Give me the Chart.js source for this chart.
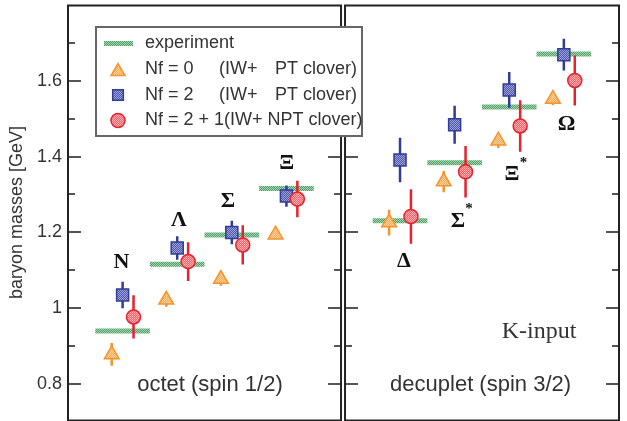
<!DOCTYPE html>
<html><head><meta charset="utf-8">
<script src="https://cdn.jsdelivr.net/npm/chart.js@4/dist/chart.umd.min.js"></script>
<style>html,body{margin:0;padding:0;background:#fff;}#wrap{width:627px;height:421px;position:relative;}</style>
</head><body><div id="wrap"><canvas id="c" width="627" height="421"></canvas></div>
<script>
// ---- data ----
const octetNames = ['N', 'Λ', 'Σ', 'Ξ'];
const decupletNames = ['Δ', 'Σ*', 'Ξ*', 'Ω'];
const expOctet = [0.940, 1.116, 1.193, 1.316];
const expDecuplet = [1.231, 1.384, 1.531, 1.671];
const nf0Octet = [0.878, 1.022, 1.077, 1.194];
const nf0OctetErr = [0.030, 0.018, 0.018, 0.012];
const nf0Decuplet = [1.226, 1.334, 1.442, 1.552];
const nf0DecupletErr = [0.034, 0.028, 0.019, 0.016];
const nf2Octet = [1.035, 1.159, 1.200, 1.296];
const nf2OctetErr = [0.035, 0.031, 0.031, 0.028];
const nf2Decuplet = [1.391, 1.484, 1.576, 1.669];
const nf2DecupletErr = [0.059, 0.050, 0.047, 0.042];
const nf21Octet = [0.977, 1.123, 1.167, 1.288];
const nf21OctetErr = [0.057, 0.051, 0.052, 0.048];
const nf21Decuplet = [1.242, 1.360, 1.481, 1.601];
const nf21DecupletErr = [0.072, 0.068, 0.068, 0.066];
const yTickValues = [0.8, 1.0, 1.2, 1.4, 1.6];
const yTickLabels = ['0.8', '1', '1.2', '1.4', '1.6'];
const yMinorTicks = [0.9, 1.1, 1.3, 1.5, 1.7];
const panelLabels = ['octet (spin 1/2)', 'decuplet (spin 3/2)'];
const inputLabel = 'K-input';
const legendRows = [
  ['experiment'],
  ['Nf = 0', '(IW+', 'PT clover)'],
  ['Nf = 2', '(IW+', 'PT clover)'],
  ['Nf = 2 + 1(IW+ NPT clover)']
];

// ---- layout (x in panel units) ----
const X_MAX = 10.09;
const PANELS = [[0, 5], [5.073, 10.09]];
const octetX = octetNames.map((_, i) => i + 1);
const decupletX = decupletNames.map((_, i) => 6.08 + i);
const allX = octetX.concat(decupletX);
const OFF = 0.2;

function makePattern(c1, c2) {
  const p = document.createElement('canvas');
  p.width = 2; p.height = 2;
  const g = p.getContext('2d');
  g.fillStyle = c1; g.fillRect(0, 0, 2, 2);
  g.fillStyle = c2; g.fillRect(0, 0, 1, 1); g.fillRect(1, 1, 1, 1);
  return g.createPattern(p, 'repeat');
}
const ctx = document.getElementById('c').getContext('2d');
const triFill = makePattern('#f7a95a', '#fcd7a8');
const sqFill = makePattern('#4f57a8', '#9ea2d6');
const ciFill = makePattern('#f2676d', '#fbb3b5');
const expStroke = makePattern('#4aa063', '#a8d6b2');

const C_TRI = '#f5942a', C_SQ = '#2f3c98', C_CI = '#e5222d';

function pts(xs, ys, dx) { return ys.map((y, i) => ({x: xs[i] + dx, y})); }
function errs(xs, ys, es, dx) {
  const out = [];
  ys.forEach((y, i) => { out.push({x: xs[i] + dx, y: y - es[i]}, {x: xs[i] + dx, y: y + es[i]}, {x: xs[i] + dx, y: null}); });
  return out;
}
function expSegs(xs, ys) {
  const out = [];
  ys.forEach((y, i) => { out.push({x: xs[i] - 0.5, y}, {x: xs[i] + 0.5, y}, {x: xs[i], y: null}); });
  return out;
}
const nf0 = nf0Octet.concat(nf0Decuplet), nf0E = nf0OctetErr.concat(nf0DecupletErr);
const nf2 = nf2Octet.concat(nf2Decuplet), nf2E = nf2OctetErr.concat(nf2DecupletErr);
const nf21 = nf21Octet.concat(nf21Decuplet), nf21E = nf21OctetErr.concat(nf21DecupletErr);
const exps = expOctet.concat(expDecuplet);

const datasets = [
  {label: 'Nf = 2 + 1', data: pts(allX, nf21, OFF), pointStyle: 'circle', pointRadius: 7, pointBackgroundColor: ciFill, pointBorderColor: C_CI, pointBorderWidth: 1.5, showLine: false},
  {label: 'e21', data: errs(allX, nf21, nf21E, OFF), showLine: true, borderColor: C_CI, borderWidth: 2.5, pointRadius: 0},
  {label: 'Nf = 2', data: pts(allX, nf2, 0), pointStyle: 'rect', pointRadius: 8.5, pointBackgroundColor: sqFill, pointBorderColor: C_SQ, pointBorderWidth: 1.5, showLine: false},
  {label: 'e2', data: errs(allX, nf2, nf2E, 0), showLine: true, borderColor: C_SQ, borderWidth: 2.5, pointRadius: 0},
  {label: 'Nf = 0', data: pts(allX, nf0, -OFF), pointStyle: 'triangle', pointRadius: 8.5, pointBackgroundColor: triFill, pointBorderColor: C_TRI, pointBorderWidth: 1.5, showLine: false},
  {label: 'e0', data: errs(allX, nf0, nf0E, -OFF), showLine: true, borderColor: C_TRI, borderWidth: 2.5, pointRadius: 0},
  {label: 'experiment', data: expSegs(allX, exps), showLine: true, borderColor: expStroke, borderWidth: 5, pointRadius: 0}
];

const annotations = [
  ['N', 0.98, 1.122], ['Λ', 2.03, 1.231], ['Σ', 2.93, 1.283], ['Ξ', 4.005, 1.383],
  ['Δ', 6.15, 1.123], ['Σ*', 7.14, 1.229], ['Ξ*', 8.13, 1.352], ['Ω', 9.13, 1.486]
];

const framePlugin = {
  id: 'frame',
  beforeDatasetsDraw(chart) {
    const {ctx, chartArea: a, scales: {x, y}} = chart;
    ctx.save();
    ctx.lineWidth = 2;
    PANELS.forEach(([p0, p1]) => {
      const l = x.getPixelForValue(p0), r = x.getPixelForValue(p1);
      const ticks = yTickValues.map(v => [v, 13]).concat(yMinorTicks.map(v => [v, 7]));
      ctx.strokeStyle = '#555';
      ticks.forEach(([v, len]) => {
        const py = Math.round(y.getPixelForValue(v));
        ctx.beginPath(); ctx.moveTo(l, py); ctx.lineTo(l + len, py); ctx.stroke();
        ctx.beginPath(); ctx.moveTo(r, py); ctx.lineTo(r - len, py); ctx.stroke();
      });
      ctx.strokeStyle = '#222';
      ctx.strokeRect(l, a.top + 0.5, r - l, a.bottom - a.top);
    });
    ctx.restore();
  },
  afterDatasetsDraw(chart) {
    const {ctx, scales: {x, y}} = chart;
    ctx.save();
    ctx.fillStyle = '#111';
    ctx.textAlign = 'center'; ctx.textBaseline = 'middle';
    annotations.forEach(([name, ax, ay]) => {
      const px = x.getPixelForValue(ax), py = y.getPixelForValue(ay);
      const base = name.replace('*', '');
      ctx.font = 'bold 22px "Liberation Serif"';
      ctx.fillText(base, px, py);
      if (name.includes('*')) {
        const w = ctx.measureText(base).width;
        ctx.font = 'bold 15px "Liberation Serif"';
        ctx.fillText('*', px + w / 2 + 4, py - 12);
      }
    });
    ctx.fillStyle = '#333';
    ctx.font = '22px "Liberation Sans"';
    ctx.fillText(panelLabels[0], x.getPixelForValue(2.6), y.getPixelForValue(0.797));
    ctx.fillText(panelLabels[1], x.getPixelForValue(7.555), y.getPixelForValue(0.797));
    ctx.font = '24px "Liberation Serif"';
    ctx.fillText(inputLabel, x.getPixelForValue(8.626), y.getPixelForValue(0.938));
    ctx.restore();
  },
  afterDraw(chart) {
    const {ctx} = chart;
    const ds = chart.data.datasets;
    ctx.save();
    const bx = 96, by = 27, bw = 266, bh = 109;
    ctx.fillStyle = '#fff'; ctx.fillRect(bx, by, bw, bh);
    ctx.strokeStyle = '#666'; ctx.lineWidth = 2; ctx.strokeRect(bx, by, bw, bh);
    const rows = [43.5, 69.5, 95, 120.5];
    const sx = 118;
    ctx.strokeStyle = ds[6].borderColor; ctx.lineWidth = 5;
    ctx.beginPath(); ctx.moveTo(104, rows[0]); ctx.lineTo(133, rows[0]); ctx.stroke();
    const sym = [null, ds[4], ds[2], ds[0]];
    const radii = [0, 8, 7.5, 7];
    for (let i = 1; i < 4; i++) {
      const d = sym[i];
      ctx.lineWidth = d.pointBorderWidth;
      ctx.fillStyle = d.pointBackgroundColor; ctx.strokeStyle = d.pointBorderColor;
      Chart.helpers.drawPoint(ctx, {pointStyle: d.pointStyle, radius: radii[i], borderWidth: d.pointBorderWidth, rotation: 0}, sx, rows[i] + (d.pointStyle === 'triangle' ? 2 : 0));
    }
    ctx.fillStyle = '#333';
    ctx.font = '18px "Liberation Sans"';
    ctx.textBaseline = 'middle';
    legendRows.forEach((r, i) => {
      ctx.textAlign = 'left';
      ctx.fillText(r[0], 145, rows[i]);
      if (r.length > 1) {
        ctx.fillText(r[1], 219, rows[i]);
        ctx.textAlign = 'right';
        ctx.fillText(r[2], 357, rows[i]);
      }
    });
    ctx.restore();
  }
};

new Chart(ctx, {
  type: 'scatter',
  data: {datasets},
  options: {
    responsive: false, animation: false,
    layout: {autoPadding: false, padding: {left: 0, right: 8, top: 5, bottom: 1}},
    plugins: {legend: {display: false}, tooltip: {enabled: false}},
    scales: {
      x: {type: 'linear', min: 0, max: X_MAX, display: false},
      y: {
        type: 'linear', min: 0.705, max: 1.8,
        afterFit(s) { s.width = 68; s.paddingTop = 0; s.paddingBottom = 0; },
        afterBuildTicks(s) { s.ticks = yTickValues.map(v => ({value: v})); },
        grid: {display: false, drawTicks: false},
        border: {display: false},
        ticks: {padding: 6, color: '#333', font: {family: 'Liberation Sans', size: 18},
          callback: (v) => { const i = yTickValues.findIndex(t => Math.abs(t - v) < 1e-6); return i >= 0 ? yTickLabels[i] : ''; }},
        title: {display: true, text: 'baryon masses [GeV]', color: '#333', font: {family: 'Liberation Sans', size: 18}, padding: {top: 6, bottom: 0}}
      }
    }
  },
  plugins: [framePlugin]
});
</script></body></html>
